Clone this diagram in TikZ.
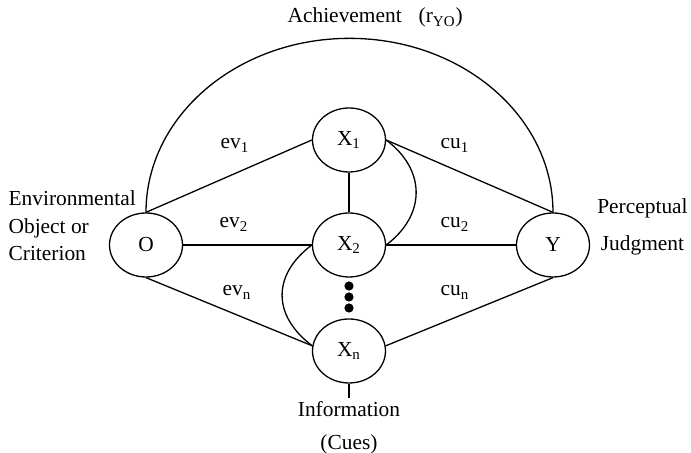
\documentclass[tikz,border=0pt]{standalone}
\usepackage{fontspec}
\setmainfont{Liberation Serif}
\usetikzlibrary{positioning, shapes.geometric, calc}

\begin{document}
\begin{tikzpicture}[
            font=\fontsize{10.7pt}{13.75pt}\selectfont,
            line width=0.65pt,
            on grid,
            varnode/.style={
                draw,
                ellipse,
                inner sep=0pt,
                minimum width=36.5pt,
                minimum height=32pt
            },
            dotnode/.style={circle, fill, inner sep=0pt, minimum size=4.6pt},
            lbl/.style={inner sep=0pt, anchor=base west}
        ]
            \useasboundingbox (-174.5pt,-104pt) rectangle (171pt,122.5pt);

            % Cues in the middle
            \node [varnode] (x2) at (0,0) {X\textsubscript{2}};
            \node [varnode, above=52.5pt of x2] (x1) {X\textsubscript{1}};
            \node [varnode, below=53pt of x2] (xn) {X\textsubscript{n}};

            % Object and judgment
            \node [varnode, left=101.5pt of x2] (o) {O};
            \node [varnode, right=102pt of x2] (y) {Y};

            % Dots between X2 and Xn
            \foreach \k in {1,2,3}
                \node [dotnode] (dot\k) at (0,{-15pt-5.5pt*\k}) {};

            % Links
            \draw (o.north) -- (x1.west);
            \draw (o.east) -- (x2.west);
            \draw (o.south) -- (xn.172);
            \draw (x1.east) -- (y.north);
            \draw (x2.east) -- (y.west);
            \draw (xn.8) -- (y.south);
            \draw (x1.south) -- (x2.north);

            % Intercorrelations of the cues
            \draw (x1.east) .. controls +(20pt,-15pt) and +(20pt,15pt) .. (x2.east);
            \draw (x2.west) .. controls +(-20pt,-15pt) and +(-20pt,15pt) .. (xn.172);

            % Achievement arc
            \draw let \p1=(o.north), \p2=(y.north) in
                (o.north) arc[start angle=180, end angle=0,
                              x radius={0.5*(\x2-\x1)}, y radius=87pt];

            % Weights
            \node [lbl] (ev1) at (-64.5pt,48pt) {ev\textsubscript{1}};
            \node [lbl] (ev2) at (-65pt,8.5pt) {ev\textsubscript{2}};
            \node [lbl] (evn) at (-63.5pt,-25.5pt) {ev\textsubscript{n}};
            \node [lbl] (cu1) at (45.5pt,48pt) {cu\textsubscript{1}};
            \node [lbl] (cu2) at (45.5pt,8.5pt) {cu\textsubscript{2}};
            \node [lbl] (cun) at (45.5pt,-25.5pt) {cu\textsubscript{n}};

            % Texts round the figure
            \node [lbl] (achv) at (-31pt,111pt)
                {Achievement\hspace{8.5pt}(r\textsubscript{YO})};
            \node [align=left, anchor=north west, inner sep=0pt] (env) at (-170.5pt,27.25pt)
                {Environmental\\Object or\\Criterion};
            \node [align=center, anchor=north, inner sep=0pt] (judg) at (146.75pt,23.3pt)
                {Perceptual\\[4.75pt]Judgment};
            \node [align=center, anchor=north, inner sep=1pt] (info) at (0,-76.75pt)
                {Information\\[2.75pt](Cues)};
            \draw (xn.south) -- (info.north);
        \end{tikzpicture}
\end{document}
